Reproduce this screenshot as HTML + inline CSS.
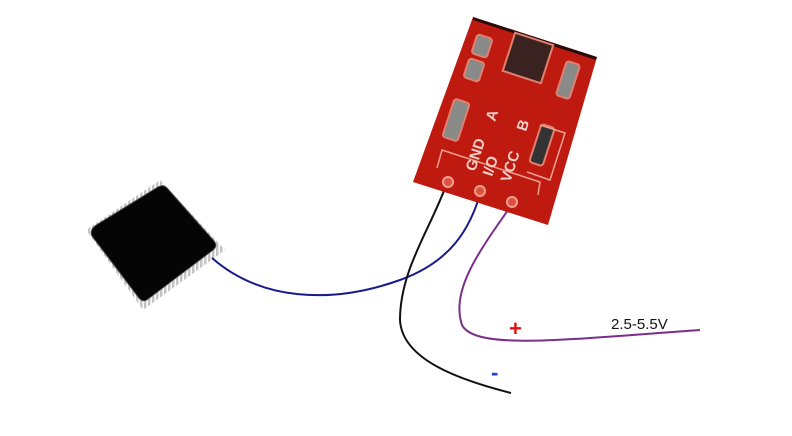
<!DOCTYPE html>
<html><head><style>
html,body{margin:0;padding:0;background:#fff;width:792px;height:436px;overflow:hidden;}
</style></head><body>
<svg width="792" height="436" viewBox="0 0 792 436" xmlns="http://www.w3.org/2000/svg">
<defs>
<pattern id="pins" width="4" height="4" patternUnits="userSpaceOnUse"><rect width="2.5" height="4" fill="#aaa"/></pattern>
</defs>
<!-- chip pins -->
<polygon points="86,230 160,180 225,250 143,310" fill="url(#pins)" opacity="0.7"/>
<!-- chip body -->
<path d="M98,224 L158,187 Q163,184 167,188 L214,241 Q218,246 213,250 L148,299 Q143,303 139,298 L92,236 Q89,229 98,224 Z" fill="#050505" stroke="#444" stroke-width="1"/>
<!-- wires -->
<path d="M212,258 C260,300 330,305 400,280 C450,262 470,230 481,191" fill="none" stroke="#1a1a8c" stroke-width="2"/>
<path d="M447,183 C430,230 400,270 400,320 C402,360 460,380 511,393" fill="none" stroke="#111" stroke-width="2"/>
<path d="M513,203 C480,250 450,290 462,325 C475,350 560,340 700,330" fill="none" stroke="#7a2e8a" stroke-width="2"/>
<!-- board -->
<polygon points="473,17 597,57 548,225 413,182" fill="#bf1a10"/>
<polygon points="473,17 597,57 596,60 473,20" fill="#2a0a08"/>
<g fill="#8a8a88" stroke="#e08070" stroke-width="2">
<rect x="474" y="36" width="16" height="20" rx="3" transform="rotate(18 482 46)"/>
<rect x="466" y="60" width="16" height="20" rx="3" transform="rotate(18 474 70)"/>
<rect x="448" y="100" width="16" height="40" rx="3" transform="rotate(18 456 120)"/>
<rect x="508" y="38" width="40" height="40" transform="rotate(18 528 58)" fill="#3a2220"/>
<rect x="561" y="62" width="14" height="36" rx="3" transform="rotate(18 568 80)"/>
<rect x="535" y="125" width="14" height="40" rx="3" transform="rotate(18 542 145)" fill="#333"/>
</g>
<g fill="none" stroke="#f0a090" stroke-width="1.5">
<polyline points="437,168 442,150 540,182 538,195"/>
<polyline points="540,125 565,133 550,180 527,172"/>
</g>
<g font-family="Liberation Sans, sans-serif" font-size="15" font-weight="bold" fill="#f4d0c8">
<text transform="translate(475,172) rotate(-72)">GND</text>
<text transform="translate(492,177) rotate(-72)">I/O</text>
<text transform="translate(510,183) rotate(-72)">VCC</text>
<text transform="translate(495,122) rotate(-72)">A</text>
<text transform="translate(526,132) rotate(-72)">B</text>
</g>
<g fill="#e05040" stroke="#f0a090" stroke-width="2">
<circle cx="448" cy="182" r="5"/><circle cx="480" cy="191" r="5"/><circle cx="512" cy="202" r="5"/>
</g>
<!-- labels -->
<text x="509" y="336" font-family="Liberation Sans, sans-serif" font-size="22" font-weight="bold" fill="#e01010">+</text>
<text x="611" y="329" font-family="Liberation Sans, sans-serif" font-size="15" fill="#111">2.5-5.5V</text>
<text x="491" y="380" font-family="Liberation Sans, sans-serif" font-size="22" font-weight="bold" fill="#1040e0">-</text>
</svg>
</body></html>
